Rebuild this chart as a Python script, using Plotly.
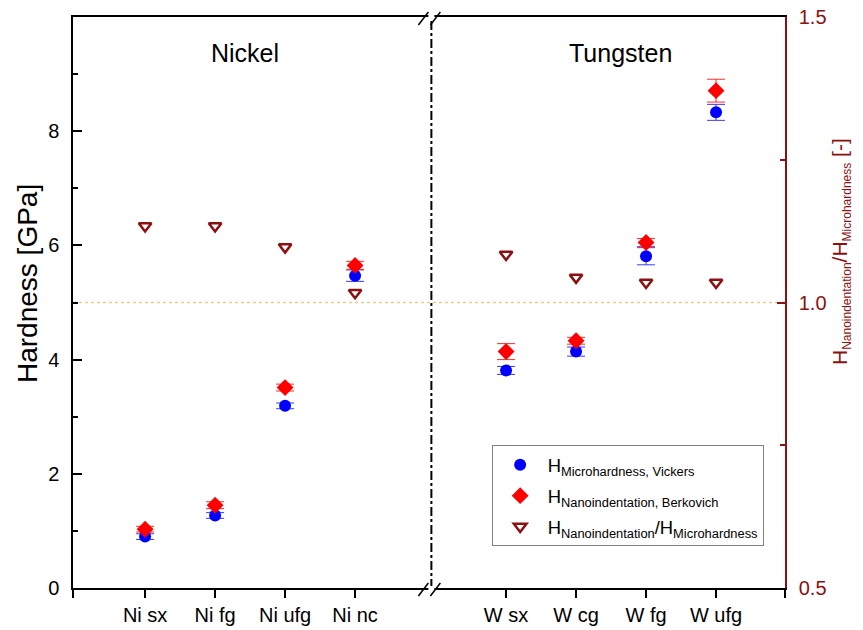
import plotly.graph_objects as go

# Sample groups and their labels
ni_labels = ["Ni sx", "Ni fg", "Ni ufg", "Ni nc"]
w_labels = ["W sx", "W cg", "W fg", "W ufg"]

# Hardness values [GPa] in the order Ni sx ... Ni nc, W sx ... W ufg
h_micro = [0.90, 1.27, 3.19, 5.47, 3.81, 4.14, 5.81, 8.33]
h_micro_err = [0.05, 0.05, 0.05, 0.10, 0.07, 0.08, 0.15, 0.14]
h_nano = [1.03, 1.45, 3.51, 5.65, 4.14, 4.33, 6.05, 8.71]
h_nano_err = [0.05, 0.06, 0.06, 0.07, 0.14, 0.06, 0.07, 0.20]
# Ratio nano / micro [-]
h_ratio = [1.134, 1.134, 1.097, 1.017, 1.084, 1.044, 1.035, 1.035]

# Horizontal layout of the broken x axis (category units)
GROUP_GAP = 2.157
x_ni = [float(i) for i in range(len(ni_labels))]
x_w = [x_ni[-1] + GROUP_GAP + i for i in range(len(w_labels))]
x_all = x_ni + x_w
labels_all = ni_labels + w_labels
x_break = x_ni[-1] + 1.09
x_range = [-1.03, x_w[-1] + 0.985]

FONT = "Arial, Liberation Sans, sans-serif"
DARKRED = "#8b1010"

# Plot-area edges in pixels
PLOT_L, PLOT_R, PLOT_T, PLOT_B = 73, 785, 17, 588


def px_to_paper(px, py):
    return (px - PLOT_L) / (PLOT_R - PLOT_L), (PLOT_B - py) / (PLOT_B - PLOT_T)


fig = go.Figure()

fig.add_trace(go.Scatter(
    x=x_all, y=h_micro, mode="markers", legendgroup="micro",
    name="H<sub>Microhardness, Vickers</sub>",
    marker=dict(symbol="circle", size=12, color="#0000ff"),
    error_y=dict(type="data", array=h_micro_err, color="#3a3aff",
                 thickness=1, width=9),
))
fig.add_trace(go.Scatter(
    x=x_all, y=h_nano, mode="markers", legendgroup="nano",
    name="H<sub>Nanoindentation, Berkovich</sub>",
    marker=dict(symbol="diamond", size=13, color="#ff0000"),
    error_y=dict(type="data", array=h_nano_err, color="#ff2a2a",
                 thickness=1, width=9),
))
fig.add_trace(go.Scatter(
    x=x_all, y=h_ratio, mode="markers", yaxis="y2", legendgroup="ratio",
    name="H<sub>Nanoindentation</sub>/H<sub>Microhardness</sub>",
    marker=dict(symbol="triangle-down", size=11, color="white",
                line=dict(color=DARKRED, width=2.5)),
))

# Reference line at ratio = 1 (same height as 5 GPa)
fig.add_shape(type="line", xref="paper", yref="y2", x0=0, x1=1, y0=1.0, y1=1.0,
              line=dict(color="#ecc98c", width=1.5, dash="dot"), layer="below")

# Dash-dot separator between the two materials
fig.add_shape(type="line", xref="x", yref="paper", x0=x_break, x1=x_break, y0=0, y1=1,
              line=dict(color="black", width=2, dash="dashdot"))

# Axis-break marks on bottom and top axis lines
px_x = 1 / 70.0
px_y = 1 / (PLOT_B - PLOT_T)
for yb in (0.0, 1.0):
    fig.add_shape(type="rect", xref="x", yref="paper",
                  x0=x_break - 3 * px_x, x1=x_break + 3 * px_x,
                  y0=yb - 2 * px_y, y1=yb + 2 * px_y,
                  fillcolor="white", line=dict(width=0))
    for off in (-13, -1):
        fig.add_shape(type="line", xref="x", yref="paper",
                      x0=x_break + off * px_x, x1=x_break + (off + 10) * px_x,
                      y0=yb - 8 * px_y, y1=yb + 5 * px_y,
                      line=dict(color="black", width=1.5))

fig.add_annotation(text="Nickel", x=1.43, y=0.965, xref="x", yref="paper",
                   showarrow=False, font=dict(size=25, color="black", family=FONT))
fig.add_annotation(text="Tungsten", x=6.79, y=0.965, xref="x", yref="paper",
                   showarrow=False, font=dict(size=25, color="black", family=FONT))

# Axis titles
lx, ly = px_to_paper(27, 284)
fig.add_annotation(text="Hardness [GPa]", x=lx, y=ly, xref="paper", yref="paper",
                   xanchor="center", yanchor="middle",
                   showarrow=False, textangle=-90,
                   font=dict(size=28, color="black", family=FONT))
rx, ry = px_to_paper(841, 252)
fig.add_annotation(
    text=("H<sub><span style='font-size:12px'>Nanoindentation</span></sub>"
          "/H<sub><span style='font-size:12px'>Microhardness</span></sub> [-]"),
    x=rx, y=ry, xref="paper", yref="paper",
    xanchor="center", yanchor="middle",
    showarrow=False, textangle=-90,
    font=dict(size=21, color=DARKRED, family=FONT))

fig.update_layout(
    width=863, height=630,
    margin=dict(l=PLOT_L, r=863 - PLOT_R, t=PLOT_T, b=630 - PLOT_B, autoexpand=False),
    paper_bgcolor="white", plot_bgcolor="white",
    font=dict(family=FONT, color="black"),
    showlegend=True,
    legend=dict(x=0.588, y=0.25, xanchor="left", yanchor="top",
                bgcolor="white", bordercolor="#808080", borderwidth=1,
                font=dict(size=18.4, family=FONT), tracegroupgap=4, itemwidth=45),
    xaxis=dict(
        range=x_range, showgrid=False, zeroline=False, automargin=False,
        tickvals=[x_range[0]] + x_all + [x_range[1]],
        ticktext=[""] + labels_all + [""],
        ticks="outside", ticklen=8, tickcolor="black", tickwidth=1.5,
        showline=True, linecolor="black", linewidth=1.5, mirror=True,
        tickfont=dict(size=20, family=FONT),
    ),
    yaxis=dict(
        range=[0, 10], showgrid=False, zeroline=False, automargin=False,
        tickvals=[0, 2, 4, 6, 8],
        ticks="inside", ticklen=9, tickcolor="black", tickwidth=1.5,
        minor=dict(tickvals=[1, 3, 5, 7, 9], ticks="inside", ticklen=5,
                   tickcolor="black", tickwidth=1.5),
        showline=True, linecolor="black", linewidth=1.5,
        tickfont=dict(size=20, family=FONT), ticklabelstandoff=8,
    ),
    yaxis2=dict(
        range=[0.5, 1.5], overlaying="y", side="right", automargin=False,
        showgrid=False, zeroline=False,
        tickvals=[0.5, 1.0, 1.5], tickformat=".1f",
        ticks="inside", ticklen=8, tickcolor=DARKRED, tickwidth=1.5,
        minor=dict(tickvals=[0.75, 1.25], ticks="inside", ticklen=5,
                   tickcolor=DARKRED, tickwidth=1.5),
        showline=True, linecolor=DARKRED, linewidth=1.5,
        tickfont=dict(size=20, color=DARKRED, family=FONT), ticklabelstandoff=8,
    ),
)

fig.write_html("out.html")
